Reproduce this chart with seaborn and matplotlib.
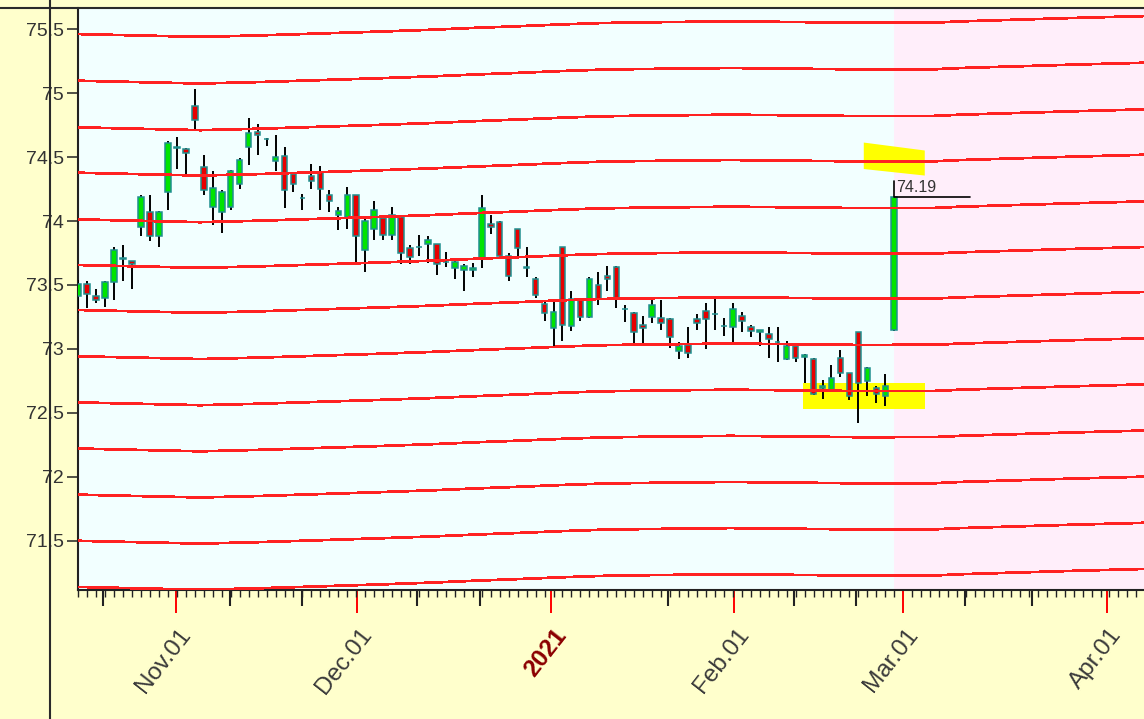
import numpy as np
import pandas as pd
import matplotlib
matplotlib.use("Agg")
import matplotlib.pyplot as plt
import matplotlib.transforms as mtransforms
from matplotlib.lines import Line2D
from matplotlib.patches import Polygon, Rectangle
import seaborn as sns

# ---------------- data ----------------
opens = [73.41, 73.51, 73.41, 73.40, 73.52, 73.70, 73.69, 73.95, 74.07, 73.88,
         74.23, 74.58, 74.56, 74.90, 74.42, 74.11, 74.07, 74.11, 74.29, 74.58,
         74.70, 74.645, 74.47, 74.51, 74.37, 74.18, 74.35, 74.38, 74.20, 74.05,
         74.03, 74.20, 73.77, 73.94, 74.02, 73.89, 74.03, 73.79, 73.80, 73.82,
         73.82, 73.68, 73.63, 73.62, 73.62, 73.70, 73.98, 73.99, 73.73, 73.94,
         73.64, 73.55, 73.35, 73.16, 73.80, 73.18, 73.39, 73.25, 73.50, 73.57,
         73.64, 73.31, 73.28, 73.19, 73.25, 73.24, 73.23, 72.98, 73.03, 73.23,
         73.30, 73.27, 73.18, 73.17, 73.26, 73.17, 73.13, 73.12, 73.05, 72.92,
         73.02, 72.94, 72.92, 72.69, 72.68, 72.93, 72.81, 73.13, 72.75, 72.69,
         72.63, 73.15]
highs = [73.54, 73.53, 73.47, 73.53, 73.80, 73.81, 73.69, 74.20, 74.20, 74.08,
         74.63, 74.66, 74.57, 75.03, 74.52, 74.39, 74.24, 74.40, 74.49, 74.81,
         74.76, 74.65, 74.67, 74.58, 74.38, 74.21, 74.45, 74.43, 74.24, 74.11,
         74.27, 74.20, 74.02, 74.16, 74.03, 74.11, 74.04, 73.81, 73.89, 73.88,
         73.82, 73.76, 73.71, 73.66, 73.67, 74.20, 74.05, 74.00, 73.75, 73.94,
         73.80, 73.56, 73.38, 73.38, 73.80, 73.45, 73.40, 73.56, 73.60, 73.65,
         73.65, 73.34, 73.29, 73.26, 73.40, 73.38, 73.24, 73.05, 73.17, 73.27,
         73.36, 73.40, 73.24, 73.36, 73.29, 73.19, 73.15, 73.17, 73.17, 73.06,
         73.03, 72.96, 72.93, 72.76, 72.87, 72.99, 72.81, 73.13, 72.86, 72.71,
         72.80, 74.19]
lows = [73.28, 73.32, 73.36, 73.33, 73.38, 73.53, 73.47, 73.88, 73.84, 73.80,
        74.09, 74.41, 74.37, 74.71, 74.20, 73.97, 73.91, 74.09, 74.25, 74.44,
        74.52, 74.59, 74.39, 74.10, 74.23, 74.09, 74.25, 74.09, 74.07, 73.93,
        73.94, 73.66, 73.60, 73.85, 73.85, 73.85, 73.66, 73.66, 73.73, 73.67,
        73.58, 73.64, 73.55, 73.45, 73.56, 73.63, 73.90, 73.70, 73.53, 73.70,
        73.56, 73.40, 73.22, 73.01, 73.06, 73.14, 73.22, 73.24, 73.34, 73.45,
        73.32, 73.21, 73.04, 73.04, 73.20, 73.15, 73.01, 72.92, 72.93, 73.15,
        73.00, 73.15, 73.10, 73.05, 73.13, 73.09, 73.02, 72.93, 72.90, 72.91,
        72.90, 72.73, 72.64, 72.61, 72.67, 72.78, 72.60, 72.42, 72.63, 72.58,
        72.55, 73.14]
closes = [73.51, 73.43, 73.38, 73.52, 73.77, 73.71, 73.66, 74.19, 73.88, 74.07,
          74.61, 74.57, 74.53, 74.79, 74.24, 74.26, 74.23, 74.39, 74.48, 74.69,
          74.67, 74.64, 74.50, 74.24, 74.29, 74.18, 74.31, 74.25, 74.16, 74.08,
          74.20, 73.88, 74.00, 74.09, 73.89, 74.05, 73.75, 73.72, 73.80, 73.85,
          73.66, 73.68, 73.68, 73.65, 73.63, 74.10, 73.95, 73.73, 73.57, 73.79,
          73.63, 73.42, 73.28, 73.29, 73.19, 73.39, 73.25, 73.55, 73.39, 73.55,
          73.39, 73.31, 73.13, 73.16, 73.34, 73.20, 73.09, 73.02, 72.97, 73.20,
          73.23, 73.27, 73.18, 73.31, 73.22, 73.14, 73.15, 73.08, 73.05, 73.02,
          72.93, 72.95, 72.65, 72.71, 72.77, 72.81, 72.63, 72.73, 72.85, 72.65,
          72.71, 74.19]

# x axis is a trading-day index; month starts fall between sessions
month_tick_pos = [10.9, 31.1, 52.7, 73.1, 92.0, 114.7]
month_tick_labels = ["Nov.01", "Dec.01", "2021", "Feb.01", "Mar.01", "Apr.01"]
week_tick_pos = [2.75, 16.9, 24.9, 37.8, 44.8, 65.8, 79.8, 86.7, 98.9, 106.4]

ytick_vals = [71.5, 72, 72.5, 73, 73.5, 74, 74.5, 75, 75.5]
ytick_labels = ["71.5", "72", "72.5", "73", "73.5", "74", "74.5", "75", "75.5"]

# red guide lines: level of each line at the left edge + shared shape along x
fan_left = [75.463, 75.098, 74.733, 74.378, 74.013, 73.656, 73.304,
            72.942, 72.581, 72.220, 71.859, 71.498, 71.137]
fan_shape_x = [0, 5.8, 13.6, 20.3, 25.9, 33.3, 39.3, 44.5, 49.5, 54.0,
               58.2, 62.7, 72.7, 80.5, 87.2, 95.6, 98.4, 105.1, 110.6, 118.9]
fan_shape_dv = [0, -0.0094, -0.0219, -0.0102, 0.0023, 0.0188, 0.0336, 0.0493,
                0.0626, 0.0759, 0.0861, 0.0915, 0.0994, 0.0939, 0.0884, 0.0900,
                0.0994, 0.1135, 0.1252, 0.1408]

# highlighted zones
zone_x = [80.85, 94.4]
zone_y = [72.529, 72.730]
flag_x = [87.6, 94.4, 94.4, 87.6]
flag_y = [74.614, 74.552, 74.356, 74.407]

# ---------------- style ----------------
sns.set_theme(style="white")
plt.rcParams["font.family"] = ["Liberation Sans", "DejaVu Sans"]

W, H = 1144, 719
fig = plt.figure(figsize=(W / 100, H / 100), dpi=100, facecolor="#ffffcc")
ax = fig.add_axes([78 / W, 1 - 590 / H, 1 - 78 / W, (590 - 8) / H])
ax.set_facecolor("#f2ffff")

n = len(closes)
idx = np.arange(n)
ax.set_xlim(-0.03, 118.85)
ax.set_ylim(71.113, 75.667)

# future zone (pink)
ax.axvspan(idx[-1], 118.85, color="#ffeefa", zorder=0.5, lw=0)

# yellow highlights
ax.add_patch(Rectangle((zone_x[0], zone_y[0]), zone_x[1] - zone_x[0],
                       zone_y[1] - zone_y[0], color="#ffff00", lw=0, zorder=1))
ax.add_patch(Polygon(np.column_stack([flag_x, flag_y]), closed=True,
                     color="#ffff00", lw=0, zorder=1))

# candles
o = np.array(opens); c = np.array(closes)
ax.vlines(idx, lows, highs, color="black", lw=1.4, zorder=3)
body_bottom = np.minimum(o, c)
body_h = np.abs(c - o)
body_col = ["#00e400" if cc > oo else "#e80000" for oo, cc in zip(o, c)]
ax.bar(idx, body_h, bottom=body_bottom, width=0.62, color=body_col,
       edgecolor="#1f8f8f", linewidth=1.1, zorder=4)

# red guide lines via seaborn
rows = []
for k, base in enumerate(fan_left):
    for xs, dv in zip(fan_shape_x, fan_shape_dv):
        rows.append({"line": k, "x": xs, "y": base + dv})
fan_df = pd.DataFrame(rows)
sns.lineplot(data=fan_df, x="x", y="y", units="line", estimator=None,
             color="#ff2222", linewidth=1.25, antialiased=False,
             legend=False, sort=False, ax=ax, zorder=5)

# last price marker
last_i = idx[-1]
last_c = closes[-1]
ax.plot([last_i, last_i, last_i + 8.5], [last_c + 0.125, last_c, last_c],
        color="black", lw=1.2, zorder=6)
ax.text(last_i + 0.25, last_c + 0.07, f"{last_c:.2f}", ha="left", va="center",
        fontsize=11.5, color="#333333", zorder=7)

ax.set_xlabel("")
ax.set_ylabel("")

# spines
for s in ["top", "right"]:
    ax.spines[s].set_visible(False)
for s in ["left", "bottom"]:
    ax.spines[s].set_color("#222222")
    ax.spines[s].set_linewidth(1.5)

# y ticks
ax.set_yticks(ytick_vals)
ax.set_yticklabels(ytick_labels)
ax.tick_params(axis="y", which="major", left=True, length=8, width=1.1,
               color="#222222", labelsize=14, labelcolor="#333333", pad=2)

# x ticks
ax.set_xticks(month_tick_pos)
ax.set_xticklabels(month_tick_labels)
ax.set_xticks(np.arange(0, 119), minor=True)
ax.tick_params(axis="x", which="major", bottom=True, length=16.5, width=1.4,
               color="red", labelsize=17.5, labelcolor="#3a3a3a", pad=8)
ax.tick_params(axis="x", which="minor", bottom=True, length=5, width=1.0,
               color="#222222")
offset = mtransforms.ScaledTranslation(2 / 100, 0, fig.dpi_scale_trans)
for lab in ax.get_xticklabels():
    lab.set_rotation(52)
    lab.set_ha("right")
    lab.set_va("top")
    lab.set_rotation_mode("anchor")
    lab.set_transform(lab.get_transform() + offset)
    if lab.get_text() == "2021":
        lab.set_fontweight("bold")
        lab.set_color("#8b0000")

# longer weekly ticks
ax.vlines(week_tick_pos, 0, -16 / 582, transform=ax.get_xaxis_transform(),
          color="#222222", lw=1.5, clip_on=False, zorder=6)

# frame lines of the chart window
fig.add_artist(Line2D([49.5 / W, 49.5 / W], [0, 1], color="#2a2a2a", lw=1.5,
                      zorder=10))
fig.add_artist(Line2D([0, 1], [1 - 8.3 / H, 1 - 8.3 / H], color="#2a2a2a",
                      lw=1.5, zorder=10))

fig.savefig("out.png", dpi=100, facecolor=fig.get_facecolor())
